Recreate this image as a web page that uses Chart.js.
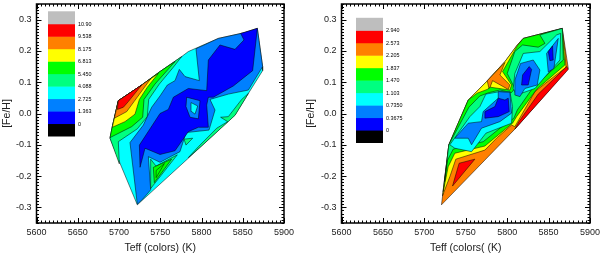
<!DOCTYPE html>
<html>
<head>
<meta charset="utf-8">
<script src="https://cdn.jsdelivr.net/npm/chart.js@4"></script>
<style>
    html, body { margin: 0; padding: 0; background: #fff; }
    #page { position: relative; width: 600px; height: 255px; overflow: hidden; }
    canvas { position: absolute; top: 0; }
    #left { left: 0; }
    #right { left: 300px; }
</style>
</head>
<body>
<div id="page">
    <canvas id="left" width="300" height="255"></canvas>
    <canvas id="right" width="300" height="255"></canvas>
</div>
<script>
/* axes and colour bar */

const xTicks = [5600, 5650, 5700, 5750, 5800, 5850, 5900];
const yTicks = [-0.3, -0.2, -0.1, 0.0, 0.1, 0.2, 0.3];
const levelColors = ['#000000', '#0000ff', '#0080ff', '#00ffff', '#00ff80', '#00ff00', '#ffff00', '#ff8000', '#ff0000', '#bebebe'];
const leftLevelLabels = ['0', '1.363', '2.725', '4.088', '5.450', '6.813', '8.175', '9.538', '10.90'];
const rightLevelLabels = ['0', '0.3675', '0.7350', '1.103', '1.470', '1.837', '2.205', '2.573', '2.940'];

/* left panel contours, [Teff, Fe/H], painted in this order */

const leftHull = [[5699.2, 0.041], [5727.5, 0.091], [5749.7, 0.134], [5776, 0.182], [5784, 0.198], [5820.4, 0.240], [5851.5, 0.258], [5867.7, 0.272], [5874.1, 0.150], [5874.1, 0.137], [5856.8, 0.064], [5840.6, -0.005], [5784, -0.143], [5722.2, -0.292], [5701.2, -0.159], [5689.1, -0.079], [5692.3, -0.037]];
const leftSpring = [[5700.4, -0.161], [5689.1, -0.079], [5692.3, -0.037], [5699.2, 0.041], [5727.5, 0.091], [5749.7, 0.134], [5776, 0.182], [5765.9, 0.148], [5748.9, 0.094], [5736, 0.045], [5734.3, -0.010], [5722.2, -0.049], [5699.2, -0.090]];
const leftGreen = [[5689.1, -0.077], [5692.3, -0.037], [5699.2, 0.041], [5727.5, 0.091], [5749.7, 0.134], [5767.9, 0.166], [5743.6, 0.094], [5730.3, 0.045], [5728.7, -0.012], [5715.4, -0.042]];
const leftYellow = [[5691.9, -0.044], [5699.2, 0.041], [5727.5, 0.091], [5747.7, 0.128], [5734.3, 0.084], [5724.7, 0.045], [5719.4, -0.002], [5707.3, -0.026]];
const leftOrange = [[5694.4, -0.015], [5699.2, 0.041], [5727.5, 0.091], [5738.4, 0.111], [5718.2, 0.038], [5709.3, 0.006]];
const leftRed = [[5699.2, 0.041], [5727.5, 0.091], [5711.3, 0.038], [5705.3, 0.020], [5698, 0.013]];
const leftDodger = [[5722.2, -0.290], [5713.3, -0.093], [5729.5, -0.037], [5739.6, 0.020], [5749.7, 0.056], [5758.6, 0.091], [5767.9, 0.105], [5773.1, 0.141], [5780, 0.118], [5797.4, 0.105], [5793.3, 0.207], [5820.4, 0.240], [5851.5, 0.258], [5867.7, 0.272], [5874.1, 0.150], [5856.8, 0.075], [5832.5, 0.062], [5810.3, 0.045], [5816.4, 0.011], [5809.1, -0.053], [5781.2, -0.061], [5777.2, -0.095], [5773.9, -0.122], [5749.7, -0.156], [5735.6, -0.138], [5738.4, -0.244], [5728.7, -0.274]];
const leftBlue = [[5867.7, 0.272], [5862, 0.137], [5838.6, 0.088], [5814.3, 0.052], [5808.3, 0.052], [5806.3, 0.027], [5808.3, -0.044], [5796.2, -0.044], [5784, -0.058], [5767.9, -0.119], [5749.7, -0.131], [5731.5, -0.111], [5725.5, -0.172], [5724.7, -0.101], [5749.7, 0], [5759.8, 0.013], [5765.9, 0.052], [5784, 0.080], [5806.3, 0.073], [5808.3, 0.171], [5822.4, 0.219], [5840.6, 0.205], [5851.5, 0.235], [5847.5, 0.256]];
const leftIsland = [[5782, 0.052], [5798.2, 0.041], [5796.2, -0.017], [5786.1, -0.012], [5781.2, 0.022]];
const leftIslandCore = [[5787.3, 0.035], [5795.4, 0.024], [5792.1, -0.002], [5788.1, 0.006]];
const leftWedge = [[5738.4, -0.146], [5744.9, -0.168], [5770.7, -0.132], [5738.4, -0.240]];
const leftWedgeCore = [[5741.6, -0.172], [5763.8, -0.146], [5742.8, -0.221]];
const leftWedgeInner = [[5745, -0.182], [5755, -0.160], [5745, -0.205]];
const leftEdgeBand = [[5856.8, 0.064], [5840.6, -0.006], [5803, -0.097], [5784, -0.141], [5796.2, -0.106], [5818.4, -0.047], [5831.7, -0.026], [5823.2, -0.012], [5832.5, -0.010], [5848.7, 0.045]];
const leftSmall = [[5778.8, -0.082], [5789.3, -0.079], [5781.2, -0.101]];

const leftContours = [leftHull, leftSpring, leftGreen, leftYellow, leftOrange, leftRed, leftDodger, leftBlue, leftIsland, leftIslandCore, leftWedge, leftWedgeCore, leftWedgeInner, leftEdgeBand, leftSmall];
const leftLevels = [3, 4, 5, 6, 7, 8, 2, 1, 2, 3, 4, 5, 5, 4, 4];

/* right panel contours */

const rightHull = [[5720.7, -0.292], [5729.6, -0.100], [5753, 0.043], [5775.1, 0.102], [5797.3, 0.166], [5812.2, 0.219], [5819.4, 0.240], [5866.5, 0.272], [5873.8, 0.144], [5809.3, -0.050]];
const rightYellow = [[5721.9, -0.263], [5730.8, -0.202], [5738, -0.146], [5773.1, -0.117], [5787.2, -0.079], [5805.3, -0.037], [5809.3, -0.042], [5833.5, 0.070], [5871, 0.148], [5869.7, 0.198], [5866.5, 0.272], [5819.4, 0.240], [5812.2, 0.219], [5797.3, 0.166], [5775.1, 0.102], [5753, 0.043], [5729.6, -0.100]];
const rightPatch = [[5797.3, 0.163], [5775.9, 0.105], [5778.3, 0.077], [5782.4, 0.105], [5801.3, 0.077], [5803.3, 0.091], [5791.2, 0.123]];
const rightGreen = [[5722.8, -0.250], [5729.6, -0.100], [5753, 0.043], [5763.8, 0.065], [5775.9, 0.077], [5779.9, 0.084], [5803.3, 0.075], [5805.3, 0.091], [5794.4, 0.134], [5812.2, 0.216], [5819.4, 0.240], [5866.5, 0.272], [5869.7, 0.155], [5835.5, 0.077], [5811.3, -0.010], [5806.5, -0.031], [5773.1, -0.104], [5736.8, -0.127], [5728.8, -0.170]];
const rightSpring = [[5724.4, -0.218], [5729.6, -0.100], [5753.8, 0.020], [5767, 0.056], [5778.3, 0.067], [5791.2, 0.075], [5805.3, 0.067], [5809.3, 0.080], [5800.1, 0.128], [5809.3, 0.198], [5818.6, 0.219], [5837.5, 0.212], [5845.6, 0.224], [5839.5, 0.251], [5866.5, 0.272], [5867.7, 0.171], [5831.5, 0.084], [5812.2, 0.011], [5808.1, -0.015], [5791.2, -0.047], [5771.1, -0.090], [5734.8, -0.114], [5728, -0.149]];
const rightCyanA = [[5730.8, -0.100], [5755, -0.010], [5767, 0.022], [5774.3, 0.062], [5791.2, 0.070], [5803.3, 0.070], [5806.5, 0.022], [5805.3, -0.031], [5774.3, -0.063], [5757, -0.122], [5736.8, -0.111]];
const rightCyanB = [[5807.3, 0.080], [5809.3, 0.128], [5819.4, 0.192], [5839.5, 0.198], [5859.7, 0.251], [5864.5, 0.256], [5863.7, 0.171], [5847.6, 0.123], [5833.5, 0.080], [5811.3, 0.059]];
const rightDodgerA = [[5736.8, -0.079], [5753, -0.031], [5769, -0.026], [5771, 0.006], [5789.2, 0.049], [5789.2, 0.070], [5803.3, 0.067], [5805.3, 0.001], [5791.2, -0.026], [5769, -0.047], [5757, -0.100], [5753, -0.079]];
const rightBlueA = [[5773.1, 0.006], [5785.2, 0.022], [5789.2, 0.049], [5797.3, 0.043], [5801.3, 0.049], [5802.5, 0.006], [5789.2, -0.010], [5773.1, -0.015]];
const rightDodgerB = [[5809.3, 0.059], [5809.3, 0.107], [5816.2, 0.160], [5831.5, 0.171], [5839.5, 0.139], [5836.3, 0.091], [5821.4, 0.080], [5815.4, 0.054]];
const rightBlueB = [[5817.4, 0.091], [5818.6, 0.123], [5826.6, 0.150], [5829.5, 0.141], [5825.4, 0.091]];
const rightDodgerC = [[5847.6, 0.192], [5861.7, 0.240], [5856.4, 0.144], [5849.6, 0.133]];
const rightBlueC = [[5849.6, 0.198], [5854.8, 0.216], [5855.6, 0.171], [5851.6, 0.169]];
const rightRedEdge = [[5873.8, 0.141], [5809.3, -0.050], [5814.2, -0.026], [5837.5, 0.062], [5871.8, 0.150]];
const rightRedLobe = [[5734, -0.232], [5742, -0.159], [5761, -0.146]];

const rightContours = [rightHull, rightYellow, rightPatch, rightGreen, rightSpring, rightCyanA, rightCyanB, rightDodgerA, rightBlueA, rightDodgerB, rightBlueB, rightDodgerC, rightBlueC, rightRedEdge, rightRedLobe];
const rightLevels = [7, 6, 7, 5, 4, 3, 3, 2, 1, 2, 1, 2, 1, 8, 8];

/* inward ticks on all four sides plus the frame */

const frameTicks = {
    id: 'frameTicks',
    afterDatasetsDraw: function (chart) {
        var ctx = chart.ctx, a = chart.chartArea;
        var sx = chart.scales.x, sy = chart.scales.y;
        ctx.save();
        ctx.strokeStyle = '#000';
        ctx.lineWidth = 1;
        for (var t = 5600; t <= 5900; t += 5) {
            var len = t % 50 === 0 ? 5 : 2.5;
            var px = Math.round(sx.getPixelForValue(t)) + 0.5;
            ctx.beginPath();
            ctx.moveTo(px, a.top); ctx.lineTo(px, a.top + len);
            ctx.moveTo(px, a.bottom); ctx.lineTo(px, a.bottom - len);
            ctx.stroke();
        }
        for (var i = -35; i <= 35; i += 1) {
            var ylen = i % 10 === 0 ? 5 : 2.5;
            var py = Math.round(sy.getPixelForValue(i / 100)) + 0.5;
            ctx.beginPath();
            ctx.moveTo(a.left, py); ctx.lineTo(a.left + ylen, py);
            ctx.moveTo(a.right, py); ctx.lineTo(a.right - ylen, py);
            ctx.stroke();
        }
        ctx.lineWidth = 1.5;
        ctx.strokeRect(a.left, a.top, a.right - a.left, a.bottom - a.top);
        ctx.restore();
    }
};

/* colour bar inside the plot, stepped from the bottom up */

const levelBar = {
    id: 'levelBar',
    afterDatasetsDraw: function (chart, args, opts) {
        var ctx = chart.ctx, a = chart.chartArea;
        var left = a.left + opts.dx, bottom = a.top + opts.dy, step = 12.47;
        ctx.save();
        levelColors.forEach(function (color, i) {
            ctx.fillStyle = color;
            ctx.fillRect(left, bottom - (i + 1) * step, 27, step + 0.5);
        });
        ctx.fillStyle = '#000';
        ctx.font = '5.4px "Liberation Sans"';
        ctx.textBaseline = 'middle';
        opts.labels.forEach(function (label, i) {
            ctx.fillText(label, left + 30, bottom - step * (i + 1) + 0.5);
        });
        ctx.restore();
    }
};

function makeChart(id, contours, levels, labels, xTitle, yWidth, rightPad, titlePad, barDx, barDy) {
    /* last dataset is drawn first, so the stack goes in reversed */
    var datasets = contours.map(function (poly, i) {
        return {
            data: poly.concat([poly[0]]).map(function (p) { return { x: p[0], y: p[1] }; }),
            borderColor: '#000',
            borderWidth: 0.5,
            backgroundColor: levelColors[levels[i]],
            fill: 'shape',
            pointRadius: 0,
            tension: 0
        };
    }).reverse();

    return new Chart(document.getElementById(id), {
        type: 'line',
        data: { datasets: datasets },
        options: {
            responsive: false,
            animation: false,
            layout: { padding: { top: 4, right: rightPad, left: 0, bottom: 0 } },
            plugins: {
                legend: { display: false },
                tooltip: { enabled: false },
                levelBar: { labels: labels, dx: barDx, dy: barDy }
            },
            scales: {
                x: {
                    type: 'linear',
                    min: 5600,
                    max: 5900,
                    grid: { display: false, drawTicks: false },
                    border: { display: false },
                    afterBuildTicks: function (s) { s.ticks = xTicks.map(function (v) { return { value: v }; }); },
                    afterFit: function (s) { s.height = 32; s.paddingLeft = 0; s.paddingRight = 0; },
                    ticks: {
                        color: '#222',
                        padding: 4,
                        maxRotation: 0,
                        autoSkip: false,
                        font: { family: 'Liberation Sans', size: 9 },
                        callback: function (v) { return String(v); }
                    },
                    title: {
                        display: true,
                        text: xTitle,
                        color: '#222',
                        padding: { top: 3, bottom: 1 },
                        font: { family: 'Liberation Sans', size: 10.5 }
                    }
                },
                y: {
                    type: 'linear',
                    min: -0.35,
                    max: 0.35,
                    grid: { display: false, drawTicks: false },
                    border: { display: false },
                    afterBuildTicks: function (s) { s.ticks = yTicks.map(function (v) { return { value: v }; }); },
                    afterFit: function (s) { s.width = yWidth; s.paddingTop = 0; s.paddingBottom = 0; },
                    ticks: {
                        color: '#222',
                        padding: 5,
                        autoSkip: false,
                        font: { family: 'Liberation Sans', size: 9 },
                        callback: function (v) { return v.toFixed(1); }
                    },
                    title: {
                        display: true,
                        text: '[Fe/H]',
                        color: '#222',
                        padding: { top: titlePad, bottom: 2 },
                        font: { family: 'Liberation Sans', size: 10.5 }
                    }
                }
            }
        },
        plugins: [levelBar, frameTicks]
    });
}

makeChart('left', leftContours, leftLevels, leftLevelLabels, 'Teff (colors) (K)', 36.5, 16, 1, 11.5, 132);
makeChart('right', rightContours, rightLevels, rightLevelLabels, 'Teff (colors( (K)', 41.5, 10, 5, 14.5, 138.5);
</script>
</body>
</html>
